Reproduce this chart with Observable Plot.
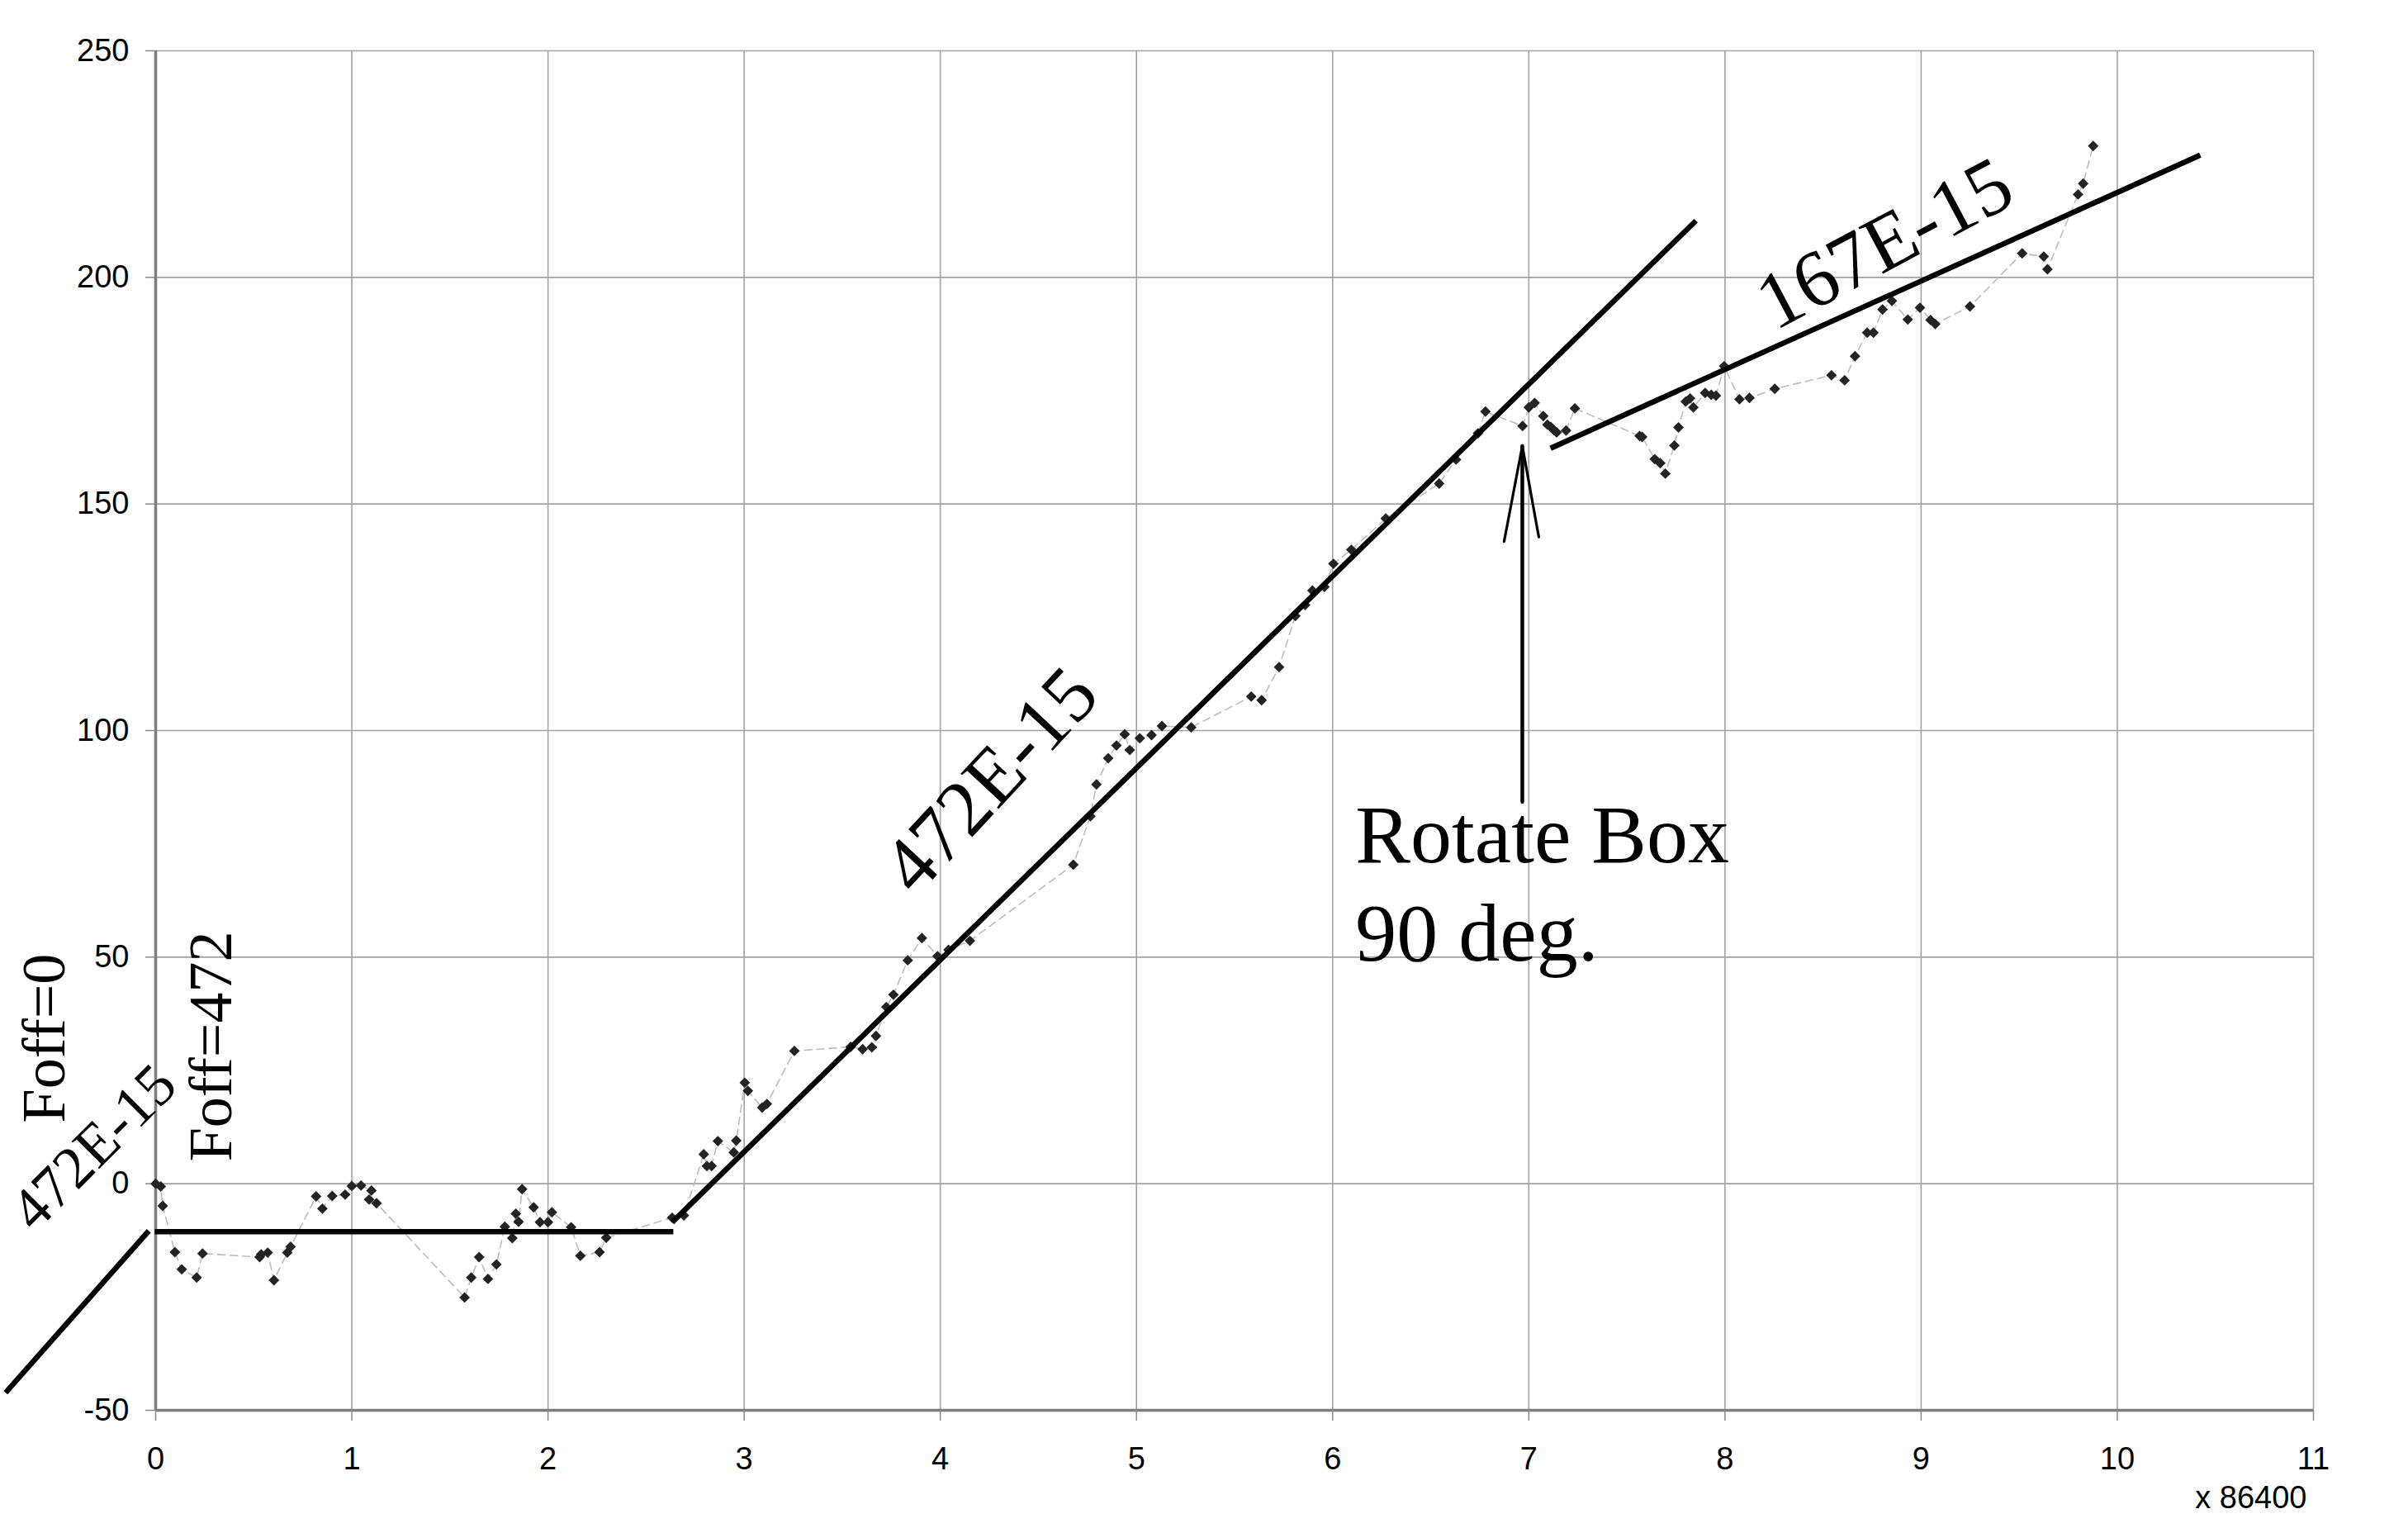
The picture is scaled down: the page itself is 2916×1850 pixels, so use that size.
<!DOCTYPE html>
<html>
<head>
<meta charset="utf-8">
<script src="https://cdn.jsdelivr.net/npm/d3@7"></script>
<script src="https://cdn.jsdelivr.net/npm/@observablehq/plot@0.6"></script>
<style>
html, body { margin: 0; padding: 0; background: #ffffff; overflow: hidden; }
#chart svg { display: block; }
</style>
</head>
<body>
<div id="chart"></div>
<script>
// Measured series: time (units of 86400 s) and offset
const days = [
  0.000, 0.026, 0.036, 0.098, 0.133, 0.209, 0.239, 0.530, 0.538, 0.571,
  0.603, 0.671, 0.688, 0.818, 0.850, 0.900, 0.966, 1.000, 1.047, 1.100,
  1.088, 1.126, 1.575, 1.609, 1.649, 1.694, 1.737, 1.780, 1.818, 1.836,
  1.850, 1.868, 1.927, 1.959, 2.000, 2.020, 2.118, 2.165, 2.263, 2.297,
  2.633, 2.693, 2.794, 2.810, 2.834, 2.866, 2.947, 2.960, 3.003, 3.019,
  3.092, 3.116, 3.256, 3.543, 3.604, 3.651, 3.672, 3.725, 3.761, 3.834,
  3.906, 3.986, 4.042, 4.151, 4.678, 4.765, 4.796, 4.856, 4.898, 4.940,
  4.966, 5.017, 5.077, 5.130, 5.279, 5.585, 5.638, 5.727, 5.810, 5.860,
  5.897, 5.958, 6.004, 6.095, 6.271, 6.543, 6.629, 6.741, 6.779, 6.968,
  7.000, 7.030, 7.074, 7.095, 7.112, 7.128, 7.142, 7.190, 7.235, 7.565,
  7.578, 7.642, 7.670, 7.696, 7.742, 7.763, 7.800, 7.822, 7.839, 7.899,
  7.930, 7.954, 7.996, 8.074, 8.125, 8.254, 8.543, 8.610, 8.663, 8.725,
  8.757, 8.803, 8.851, 8.932, 8.994, 9.048, 9.072, 9.249, 9.515, 9.625,
  9.644, 9.800, 9.826, 9.877
];
const offsets = [
  0.0, -0.6, -4.9, -15.1, -18.9, -20.7, -15.4, -16.2, -15.6, -15.2,
  -21.3, -15.2, -13.9, -2.8, -5.5, -2.7, -2.4, -0.5, -0.4, -1.5,
  -3.5, -4.3, -25.1, -20.7, -16.2, -21.0, -17.8, -9.5, -12.0, -6.6,
  -8.4, -1.2, -5.2, -8.5, -8.5, -6.3, -9.6, -15.9, -15.1, -11.9,
  -7.5, -7.0, 6.5, 3.9, 3.9, 9.4, 6.9, 9.5, 22.3, 20.5,
  16.8, 17.6, 29.3, 30.2, 29.7, 30.1, 32.6, 39.0, 41.7, 49.3,
  54.2, 50.2, 51.6, 53.6, 70.4, 81.1, 88.1, 93.9, 96.7, 99.2,
  95.7, 98.3, 99.0, 101.0, 100.7, 107.5, 106.7, 114.0, 125.3, 127.7,
  130.9, 131.7, 136.8, 139.9, 146.8, 154.5, 159.8, 165.6, 170.4, 167.2,
  171.3, 172.3, 169.4, 167.5, 167.0, 166.3, 165.8, 166.2, 171.1, 165.0,
  164.8, 159.9, 159.0, 156.7, 162.9, 166.9, 172.6, 173.3, 171.3, 174.5,
  174.1, 173.9, 180.4, 173.1, 173.4, 175.4, 178.4, 177.3, 182.6, 187.8,
  187.8, 192.9, 194.8, 190.7, 193.3, 190.6, 189.7, 193.6, 205.3, 204.6,
  201.8, 218.3, 220.7, 229.0
];

const xTicks = [0, 1, 2, 3, 4, 5, 6, 7, 8, 9, 10, 11];
const yTicks = [-50, 0, 50, 100, 150, 200, 250];

// Hand-drawn fit lines (segment id, endpoints in data units)
const fitSegment = ["pre", "pre", "flat", "flat", "steep", "steep", "after", "after"];
const fitX = [-0.765, -0.035, -0.005, 2.639, 2.633, 7.852, 7.111, 10.423];
const fitY = [-46.1, -10.4, -10.6, -10.6, -8.5, 212.5, 162.3, 227.0];

// Arrow marking the box rotation
const arrowPart = ["shaft", "shaft", "left", "left", "right", "right"];
const arrowX = [6.967, 6.967, 6.967, 6.874, 6.967, 7.051];
const arrowY = [84.3, 162.8, 162.8, 141.7, 162.8, 142.7];

// Annotation texts and anchors (data units)
const slopeLabels = ["472E-15", "167E-15", "472E-15"];
const slopeLabelX = [4.255, 8.814, -0.316];
const slopeLabelY = [89.0, 207.4, 8.0];
const foffLabels = ["Foff=0", "Foff=472"];
const foffX = [-0.566, 0.287];
const foffY = [32.1, 30.3];
const noteLines = ["Rotate Box", "90 deg."];
const noteX = [6.116, 6.116];
const noteY = [70.9, 49.2];
const xUnitLabel = ["x 86400"];

const points = days.map((d, i) => ({x: d, y: offsets[i]}));
const fits = fitX.map((v, i) => ({seg: fitSegment[i], x: v, y: fitY[i]}));
const arrow = arrowX.map((v, i) => ({part: arrowPart[i], x: v, y: arrowY[i]}));
const serif = "'Liberation Serif', 'Times New Roman', serif";

const chart = Plot.plot({
  width: 2916,
  height: 1850,
  marginLeft: 188,
  marginRight: 115,
  marginTop: 61,
  marginBottom: 143,
  style: {fontFamily: "'Liberation Sans', Arial, sans-serif", fontSize: "38px", background: "#ffffff", color: "#000000", overflow: "visible"},
  x: {domain: [0, 11]},
  y: {domain: [-50, 250]},
  marks: [
    Plot.gridX(xTicks, {stroke: "#a3a3a3", strokeOpacity: 1, strokeWidth: 1.6}),
    Plot.gridY(yTicks, {stroke: "#a3a3a3", strokeOpacity: 1, strokeWidth: 1.6}),
    Plot.ruleX([0], {stroke: "#7c7c7c", strokeWidth: 3.5}),
    Plot.ruleY([-50], {stroke: "#7c7c7c", strokeWidth: 3.5}),
    Plot.axisX(xTicks, {tickSize: 13, tickPadding: 32, stroke: "#8a8a8a", strokeWidth: 1.5, fill: "#000", fontSize: 38, tickFormat: d => String(d), label: null}),
    Plot.axisY(yTicks, {tickSize: 12, tickPadding: 20, stroke: "#8a8a8a", strokeWidth: 1.5, fill: "#000", fontSize: 38, tickFormat: d => String(d), label: null}),
    Plot.text(xUnitLabel, {frameAnchor: "bottom-right", text: d => d, dy: 118, dx: -8, textAnchor: "end", fontSize: 38, fill: "#000"}),
    Plot.line(points, {x: "x", y: "y", stroke: "#bdbdbd", strokeWidth: 1.6, strokeDasharray: "9,6", curve: "linear"}),
    Plot.dot(points, {x: "x", y: "y", symbol: "diamond2", r: 5.8, fill: "#232323", stroke: "none"}),
    Plot.line(fits, {x: "x", y: "y", z: "seg", stroke: "#000", strokeWidth: 6.5, strokeLinecap: "butt"}),
    Plot.line(arrow.filter(d => d.part === "shaft"), {x: "x", y: "y", stroke: "#000", strokeWidth: 4.5}),
    Plot.line(arrow.filter(d => d.part !== "shaft"), {x: "x", y: "y", z: "part", stroke: "#000", strokeWidth: 3.2}),
    Plot.text([slopeLabels[0]], {x: [slopeLabelX[0]], y: [slopeLabelY[0]], text: d => d, rotate: -47, fontSize: 96, fontFamily: serif, fill: "#000"}),
    Plot.text([slopeLabels[1]], {x: [slopeLabelX[1]], y: [slopeLabelY[1]], text: d => d, rotate: -28, fontSize: 97, fontFamily: serif, fill: "#000"}),
    Plot.text([slopeLabels[2]], {x: [slopeLabelX[2]], y: [slopeLabelY[2]], text: d => d, rotate: -45, fontSize: 72, fontFamily: serif, fill: "#000"}),
    Plot.text(foffLabels, {x: foffX, y: foffY, text: d => d, rotate: -90, fontSize: 74, fontFamily: serif, fill: "#000"}),
    Plot.text(noteLines, {x: noteX, y: noteY, text: d => d, textAnchor: "start", lineAnchor: "bottom", fontSize: 100, fontFamily: serif, fill: "#000"})
  ]
});
document.getElementById("chart").appendChild(chart);
</script>
</body>
</html>
